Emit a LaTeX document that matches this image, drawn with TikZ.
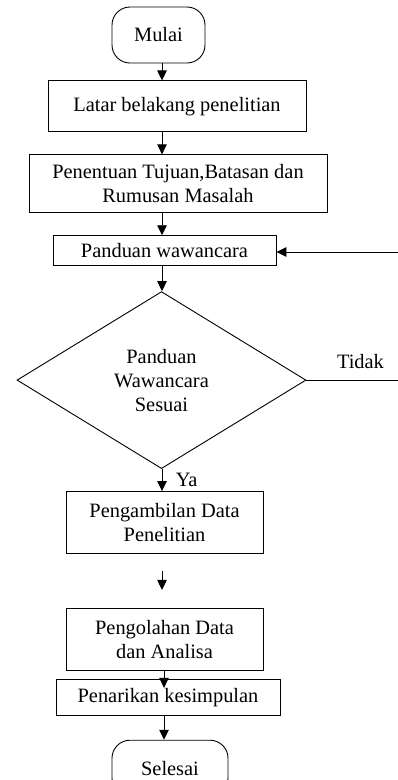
\documentclass[tikz,border=0pt]{standalone}
\usepackage{fontspec}
\setmainfont{Liberation Serif}
\usetikzlibrary{positioning,shapes.geometric,arrows.meta}
\begin{document}
\begin{tikzpicture}[x=1pt,y=1pt,->,>={Triangle[width=9.5pt,length=10pt]},line width=0.9pt,
                font=\fontsize{20.4}{24}\selectfont,
                t node/.style={draw,rounded corners=18pt,minimum height=56pt},
                p node/.style={draw,rectangle,align=center,inner sep=2pt},
                d node/.style={draw,diamond,aspect=1.63,inner sep=0pt,align=center}]

    \useasboundingbox (0,0) rectangle (398,-780);
    \clip (0,0) rectangle (398,-780);
    \coordinate (ax) at (162,0);
    \coordinate (bx) at (164,0);
    \coordinate (edge) at (398,0);
    \coordinate (back) at (398,-252);

    \node[t node, minimum width=93pt] (mulai) at (158.5,-35) {Mulai};
    \node[p node, minimum width=258pt, minimum height=51pt] (latar) [below=17pt of mulai, xshift=18.5pt] {Latar belakang penelitian};
    \node[p node, minimum width=298pt, minimum height=58pt] (tujuan) [below=22pt of latar, xshift=1pt] {Penentuan Tujuan,Batasan dan\\Rumusan Masalah};
    \node[p node, minimum width=223pt, minimum height=30pt] (panduan) [below=22pt of tujuan, xshift=-13.5pt] {Panduan wawancara};
    \node[d node, minimum width=289pt, minimum height=177pt] (sesuai) [below=25pt of panduan, xshift=-3pt] {Panduan\\Wawancara\\Sesuai};
    \node[p node, minimum width=197pt, minimum height=62pt] (ambil) [below=22pt of sesuai, xshift=3pt] {Pengambilan Data\\Penelitian};
    \node[p node, minimum width=197pt, minimum height=62pt] (olah) [below=54pt of ambil] {Pengolahan Data\\dan Analisa};
    \node[p node, minimum width=224pt, minimum height=36pt] (tarik) [below=8pt of olah, xshift=3.5pt] {Penarikan kesimpulan};
    \node[t node, minimum width=116pt] (selesai) [below=24pt of tarik, xshift=2pt] {Selesai};

    \draw (mulai.south -| ax) -- (latar.north -| ax);
    \draw (latar.south -| ax) -- (tujuan.north -| ax);
    \draw (tujuan.south -| ax) -- (panduan.north -| ax);
    \draw (panduan.south -| ax) -- (sesuai.north -| ax);
    \draw (sesuai.south -| ax) -- node[right=10pt] {Ya} (ambil.north -| ax);
    \draw[shorten <=17pt,shorten >=18pt] (ambil.south -| ax) -- (olah.north -| ax);
    \draw[shorten >=-9pt] (olah.south -| bx) -- (tarik.north -| bx);
    \draw (tarik.south -| bx) -- (selesai.north -| bx);

    \draw[-] (sesuai.east) -- node[above=8pt,pos=0.59] {Tidak} (sesuai.east -| edge);
    \draw (back) -- (back -| panduan.east);

\end{tikzpicture}
\end{document}
